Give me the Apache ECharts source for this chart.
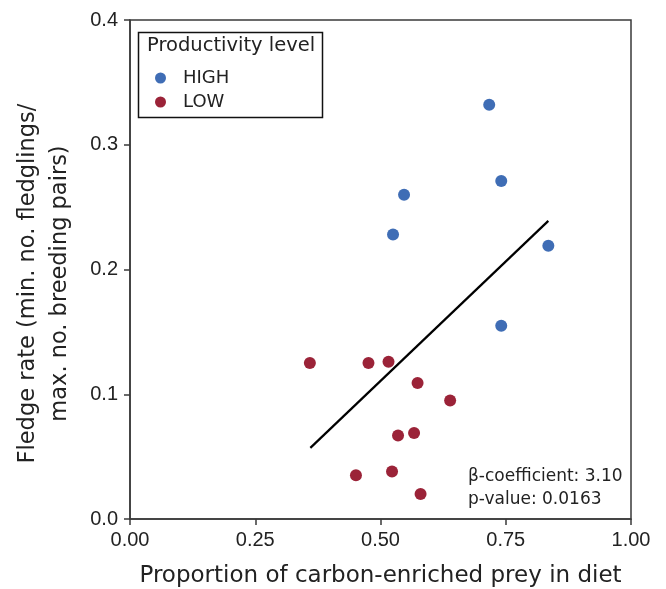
<!DOCTYPE html>
<html>
<head>
<meta charset="utf-8">
<script src="https://cdn.jsdelivr.net/npm/echarts@6/dist/echarts.min.js"></script>
<style>
  html, body { margin: 0; padding: 0; background: #fff; }
  #chart { width: 666px; height: 589px; }
</style>
</head>
<body>
<div id="chart"></div>
<script>
// data
const highX = [0.717, 0.741, 0.547, 0.525, 0.835, 0.741]
const highY = [0.332, 0.271, 0.260, 0.228, 0.219, 0.155]
const lowX = [0.359, 0.476, 0.516, 0.574, 0.639, 0.535, 0.567, 0.451, 0.523, 0.580]
const lowY = [0.125, 0.125, 0.126, 0.109, 0.095, 0.067, 0.069, 0.035, 0.038, 0.020]
// fitted line end points
const fitX = [0.360, 0.835]
const fitY = [0.057, 0.239]
const xTicks = [0, 0.25, 0.5, 0.75, 1]
const yTicks = [0, 0.1, 0.2, 0.3, 0.4]

const blue = '#3f6db5'
const red = '#9b2338'
const ink = '#222'
const tickFont = 'Liberation Sans, Arial, Helvetica, sans-serif'
const textFont = 'DejaVu Sans, Liberation Sans, sans-serif'

const pairs = (xs, ys) => xs.map((x, i) => [x, ys[i]])

const chart = echarts.init(document.getElementById('chart'), null, { renderer: 'canvas' })

chart.setOption({
  backgroundColor: '#fff',
  animation: false,
  textStyle: { fontFamily: tickFont },
  grid: {
    left: 130, right: 35, top: 20, bottom: 70,
    outerBoundsMode: 'none',
    show: true, borderColor: '#3a3a3a', borderWidth: 1.5
  },
  xAxis: {
    type: 'value', min: xTicks[0], max: xTicks[xTicks.length - 1], interval: 0.25,
    name: 'Proportion of carbon-enriched prey in diet',
    nameLocation: 'middle', nameGap: 46,
    nameTextStyle: { fontSize: 23, color: ink, fontFamily: textFont },
    axisLine: { show: true, onZero: false, lineStyle: { color: '#3a3a3a', width: 1.5 } },
    axisTick: { show: true, length: 6, lineStyle: { color: '#3a3a3a', width: 1.5 } },
    axisLabel: { fontSize: 20, color: ink, margin: 11, fontFamily: tickFont, formatter: v => v.toFixed(2) },
    splitLine: { show: false }
  },
  yAxis: {
    type: 'value', min: yTicks[0], max: yTicks[yTicks.length - 1], interval: 0.1,
    name: 'Fledge rate (min. no. fledglings/\nmax. no. breeding pairs)',
    nameLocation: 'middle', nameGap: 54,
    // right padding nudges the rotated block down, as in the original
    nameTextStyle: { fontSize: 22.5, color: ink, lineHeight: 32, fontFamily: textFont, padding: [0, 28, 0, 0] },
    axisLine: { show: true, onZero: false, lineStyle: { color: '#3a3a3a', width: 1.5 } },
    axisTick: { show: true, length: 6, lineStyle: { color: '#3a3a3a', width: 1.5 } },
    axisLabel: { fontSize: 20, color: ink, margin: 12, fontFamily: tickFont, formatter: v => v.toFixed(1) },
    splitLine: { show: false }
  },
  legend: {
    orient: 'vertical', left: 150, top: 64, itemGap: 6,
    itemWidth: 11, itemHeight: 11,
    textStyle: { fontSize: 18, color: ink, fontFamily: textFont, padding: [0, 0, 0, 12] },
    data: [
      { name: 'HIGH', icon: 'circle' },
      { name: 'LOW', icon: 'circle' }
    ]
  },
  graphic: [
    {
      type: 'rect', silent: true,
      shape: { x: 138.5, y: 32.5, width: 184, height: 85 },
      style: { fill: 'none', stroke: '#111', lineWidth: 1.5 }
    },
    {
      type: 'text', left: 147, top: 36,
      style: { text: 'Productivity level', fontSize: 19.5, fill: ink, fontFamily: textFont }
    },
    {
      type: 'text', left: 468, top: 465,
      style: {
        text: 'β-coefficient: 3.10\np-value: 0.0163',
        fontSize: 17, lineHeight: 23, fill: ink, fontFamily: textFont
      }
    }
  ],
  series: [
    {
      name: 'fit', type: 'line', data: pairs(fitX, fitY),
      showSymbol: false, silent: true,
      lineStyle: { color: '#000', width: 2.2 }
    },
    {
      name: 'HIGH', type: 'scatter', data: pairs(highX, highY),
      symbolSize: 12, itemStyle: { color: blue, opacity: 1 }
    },
    {
      name: 'LOW', type: 'scatter', data: pairs(lowX, lowY),
      symbolSize: 12, itemStyle: { color: red, opacity: 1 }
    }
  ]
})
</script>
</body>
</html>
